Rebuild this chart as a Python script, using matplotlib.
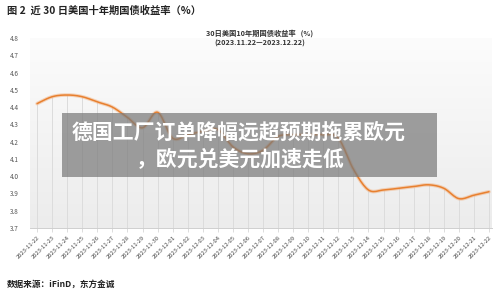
import matplotlib
matplotlib.use("Agg")
import matplotlib.pyplot as plt
import numpy as np
from matplotlib.patches import Rectangle

plt.rcParams["font.family"] = ["Noto Sans CJK SC", "DejaVu Sans"]

# Dates shown on the x axis
dates = [
    "2023-11-22", "2023-11-23", "2023-11-24", "2023-11-25", "2023-11-26",
    "2023-11-27", "2023-11-28", "2023-11-29", "2023-11-30", "2023-12-01",
    "2023-12-02", "2023-12-03", "2023-12-04", "2023-12-05", "2023-12-06",
    "2023-12-07", "2023-12-08", "2023-12-09", "2023-12-10", "2023-12-11",
    "2023-12-12", "2023-12-13", "2023-12-14", "2023-12-15", "2023-12-16",
    "2023-12-17", "2023-12-18", "2023-12-19", "2023-12-20", "2023-12-21",
    "2023-12-22",
]
# US 10y treasury yield (%)
yields = [
    4.42, 4.46, 4.47, 4.46, 4.43,
    4.40, 4.34, 4.28, 4.37, 4.22,
    4.24, 4.26, 4.27, 4.17, 4.13,
    4.15, 4.23, 4.24, 4.24, 4.24,
    4.22, 4.04, 3.92, 3.92, 3.93,
    3.94, 3.95, 3.93, 3.87, 3.89,
    3.91,
]
y_ticks = [3.7, 3.8, 3.9, 4.0, 4.1, 4.2, 4.3, 4.4, 4.5, 4.6, 4.7, 4.8]


def smooth_path(xs, ys, steps=12):
    # Catmull-Rom curve through the points, like the spreadsheet "smoothed line"
    xs = np.asarray(xs, float)
    ys = np.asarray(ys, float)
    px = np.concatenate([[xs[0]], xs, [xs[-1]]])
    py = np.concatenate([[ys[0]], ys, [ys[-1]]])
    out_x, out_y = [], []
    t = np.linspace(0, 1, steps, endpoint=False)
    for i in range(1, len(px) - 2):
        for arr, out in ((px, out_x), (py, out_y)):
            p0, p1, p2, p3 = arr[i - 1], arr[i], arr[i + 1], arr[i + 2]
            out.extend(0.5 * (2 * p1 + (-p0 + p2) * t
                              + (2 * p0 - 5 * p1 + 4 * p2 - p3) * t ** 2
                              + (-p0 + 3 * p1 - 3 * p2 + p3) * t ** 3))
    out_x.append(xs[-1])
    out_y.append(ys[-1])
    return np.array(out_x), np.array(out_y)


fig = plt.figure(figsize=(5.0, 2.91), dpi=100)
fig.patch.set_facecolor("white")
ax = fig.add_axes([0.06, 0.2165, 0.924, 0.6529])

x = np.arange(len(dates))
ax.set_xlim(-0.47, len(dates) - 0.8)
ax.set_ylim(3.7, 4.8)

# light vertical gradient behind the plot
grad = np.linspace(0, 1, 256).reshape(-1, 1)
ax.imshow(grad, extent=[-0.47, len(dates) - 0.8, 3.7, 4.8], aspect="auto",
          cmap=matplotlib.colors.LinearSegmentedColormap.from_list("bg", ["#ececec", "#fcfcfc"]),
          origin="lower", zorder=0)

# drop lines from each point down to the axis
ax.vlines(x, 3.7, yields, color="#dcdcdc", linewidth=0.7, zorder=1)
sx, sy = smooth_path(x, yields)
ax.plot(sx, sy, color="#f2b07e", linewidth=2.6, alpha=0.5, zorder=2, solid_capstyle="round")
ax.plot(sx, sy, color="#e8802f", linewidth=1.1, zorder=3, solid_capstyle="round")

for side in ["top", "right", "left"]:
    ax.spines[side].set_visible(False)
ax.spines["bottom"].set_color("#cfcfcf")
ax.spines["bottom"].set_linewidth(0.7)

ax.set_yticks(y_ticks)
ax.set_yticklabels([f"{v:.1f}" for v in y_ticks], fontsize=4.6, color="#555555")
ax.tick_params(axis="y", length=0, pad=8)
ax.set_xticks(x)
ax.set_xticklabels(dates, rotation=45, ha="right", rotation_mode="anchor",
                   fontsize=4.2, color="#444444")
ax.tick_params(axis="x", length=3, width=0.5, color="#cfcfcf", pad=2)

fig.text(0.014, 0.965, "图 2  近 30 日美国十年期国债收益率（%）", fontsize=7.4,
         fontweight="bold", color="#222222", va="center", ha="left")
fig.text(0.52, 0.885, "30日美国10年期国债收益率   (%)", fontsize=5.2,
         fontweight="bold", color="#333333", va="center", ha="center")
fig.text(0.52, 0.852, "(2023.11.22—2023.12.22)", fontsize=5.2,
         fontweight="bold", color="#333333", va="center", ha="center")
fig.text(0.014, 0.022, "数据来源：iFinD，东方金诚", fontsize=6.2,
         fontweight="bold", color="#222222", va="center", ha="left")

# translucent headline banner
fig.patches.append(Rectangle((0.124, 0.392), 0.75, 0.22, transform=fig.transFigure,
                             facecolor="#7a7a7a", alpha=0.72, edgecolor="none", zorder=5))
fig.text(0.143, 0.546, "德国工厂订单降幅远超预期拖累欧元", fontsize=15,
         fontweight="bold", color="white", va="center", ha="left", zorder=6)
fig.text(0.272, 0.453, "，欧元兑美元加速走低", fontsize=15,
         fontweight="bold", color="white", va="center", ha="left", zorder=6)

fig.savefig("out.png", dpi=100)
